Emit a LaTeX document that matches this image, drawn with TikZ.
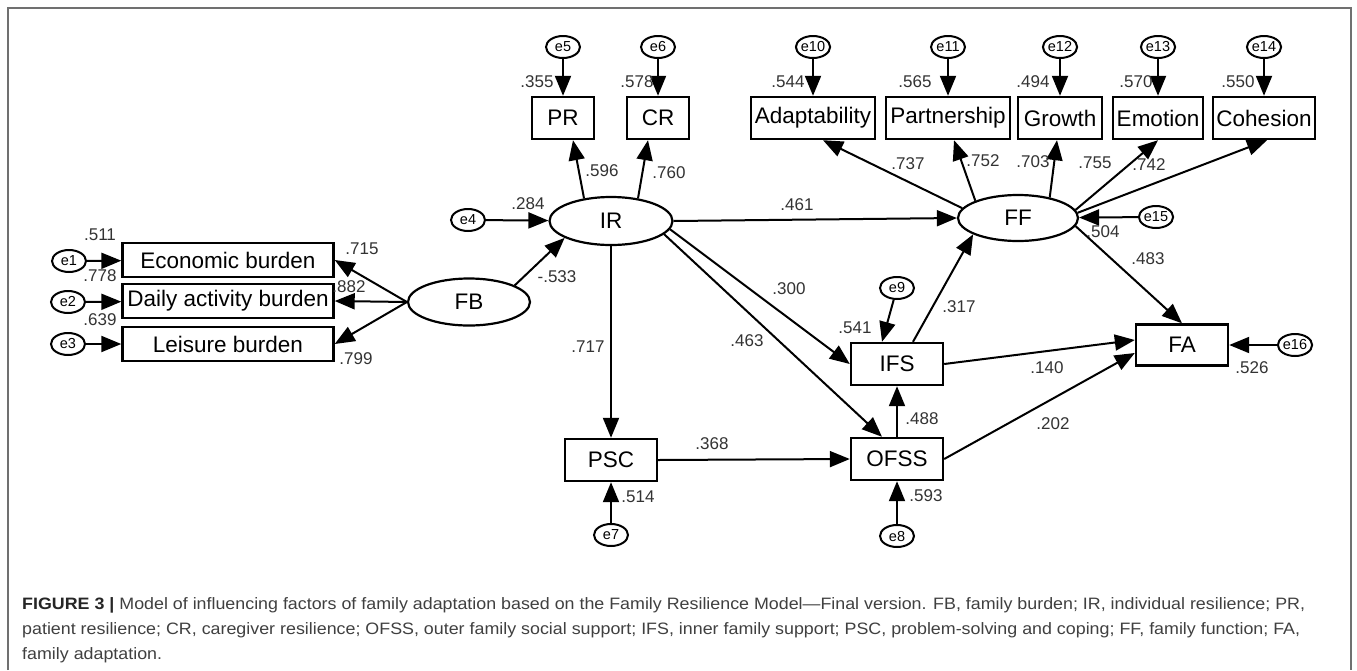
\documentclass[tikz,border=0pt]{standalone}
\usepackage{fontspec}
\setmainfont{Liberation Sans}
\usetikzlibrary{arrows.meta,shapes.geometric}
\definecolor{numcol}{HTML}{333333}
\definecolor{framecol}{HTML}{707070}
\definecolor{capcol}{HTML}{404040}
\newlength\capwd
\newcommand\capfont{\fontsize{16.5}{20}\selectfont}
\newcommand\captwo{patient resilience; CR, caregiver resilience; OFSS, outer family social support; IFS, inner family support; PSC, problem-solving and coping; FF, family function; FA,}
\begin{document}
\settowidth\capwd{\capfont\captwo}
\pgfmathsetmacro\capsx{1278pt/\capwd}
\begin{tikzpicture}[x=1pt,y=-1pt,
  obs/.style={draw,line width=2.4pt,minimum height=42pt,inner sep=0pt,font=\fontsize{22.5}{24}\selectfont},
  lat/.style={draw,ellipse,line width=2.2pt,minimum width=122pt,minimum height=47pt,inner sep=0pt,font=\fontsize{22.5}{24}\selectfont},
  err/.style={draw,ellipse,line width=2pt,minimum width=34pt,minimum height=22pt,inner sep=0pt,font=\fontsize{14.5}{14.5}\selectfont},
  num/.style={font=\fontsize{17}{18}\selectfont,text=numcol,inner sep=0pt},
  arr/.style={line width=2pt,-{Triangle[length=20pt 0 0,width=16pt 0 0]}},
]
\fill[white] (0,0) rectangle (1357,670);
\useasboundingbox (0,0) rectangle (1357,670);
\draw[framecol,line width=1.5pt] (8,670) -- (8,8) -- (1351,8) -- (1351,670);

% observed boxes
\node[obs,minimum width=211pt,minimum height=34pt] (econ) at (228,260) {Economic burden};
\node[obs,minimum width=211pt,minimum height=34pt] (daily) at (228,301) {Daily activity burden};
\node[obs,minimum width=211pt,minimum height=34pt] (leis) at (228,344) {Leisure burden};
\node[obs,minimum width=62pt] (pr) at (563,118) {PR};
\node[obs,minimum width=62pt] (cr) at (658,118) {CR};
\node[obs,minimum width=124pt] (adap) at (813,118) {Adaptability};
\node[obs,minimum width=124pt] (part) at (948,118) {Partnership};
\node[obs,minimum width=84pt] (grow) at (1060,118) {Growth};
\node[obs,minimum width=90pt] (emo) at (1158,118) {Emotion};
\node[obs,minimum width=102pt] (coh) at (1264,118) {Cohesion};
\node[obs,minimum width=92pt] (psc) at (611,460) {PSC};
\node[obs,minimum width=92pt] (ofss) at (897,459) {OFSS};
\node[obs,minimum width=92pt] (ifs) at (897,364) {IFS};
\node[obs,minimum width=92pt,minimum height=41pt] (fa) at (1182,345) {FA};

% latent
\node[lat] (fb) at (469,302) {FB};
\node[lat,minimum width=123pt,minimum height=48pt] (ir) at (611,221) {IR};
\node[lat,minimum width=120pt,minimum height=46pt] (ff) at (1018,218) {FF};

% errors
\node[err] (e1) at (69,261) {e1};
\node[err] (e2) at (68,302) {e2};
\node[err] (e3) at (68,344) {e3};
\node[err] (e4) at (468,220) {e4};
\node[err] (e5) at (563,47) {e5};
\node[err] (e6) at (658,47) {e6};
\node[err] (e7) at (611,535) {e7};
\node[err] (e8) at (897,536) {e8};
\node[err] (e9) at (897,288) {e9};
\node[err] (e10) at (813,47) {e10};
\node[err] (e11) at (948,47) {e11};
\node[err] (e12) at (1060,47) {e12};
\node[err] (e13) at (1158,47) {e13};
\node[err] (e14) at (1264,47) {e14};
\node[err] (e15) at (1156,217) {e15};
\node[err] (e16) at (1295,345) {e16};

% arrows
\draw[arr] (e1) -- (econ);
\draw[arr] (e2) -- (daily);
\draw[arr] (e3) -- (leis);
\draw[arr] (fb.west) -- (econ.east);
\draw[arr] (fb.west) -- (daily.east);
\draw[arr] (fb.west) -- (leis.east);
\draw[arr] (fb.20) -- (ir.200);
\draw[arr] (e4) -- (ir);
\draw[arr] (ir.140) -- ([xshift=10pt]pr.south);
\draw[arr] (ir.40) -- ([xshift=-10pt]cr.south);
\draw[arr] (e5) -- (pr);
\draw[arr] (e6) -- (cr);
\draw[arr] (e10) -- (adap);
\draw[arr] (e11) -- (part);
\draw[arr] (e12) -- (grow);
\draw[arr] (e13) -- (emo);
\draw[arr] (e14) -- (coh);
\draw[arr] (ir.east) -- (ff.west);
\draw[arr] (ir.-8) -- (ifs.west);
\draw[arr] (ir.-14) -- ([xshift=-15pt]ofss.north);
\draw[arr] (ir.south) -- (psc.north);
\draw[arr] (psc.east) -- (ofss.west);
\draw[arr] (ofss.north) -- (ifs.south);
\draw[arr] (e9) -- ([xshift=-15pt]ifs.north);
\draw[arr] ([xshift=16pt]ifs.north) -- (ff.200);
\draw[arr] (ifs.east) -- ([yshift=5pt]fa.west);
\draw[arr] (ofss.east) -- ([yshift=-8pt]fa.west);
\draw[arr] (ff.-8) -- (fa.north);
\draw[arr] (e15) -- (ff);
\draw[arr] (e16) -- (fa);
\draw[arr] (e7) -- (psc);
\draw[arr] (e8) -- (ofss);
\draw[arr] (ff.170) -- ([xshift=10pt]adap.south);
\draw[arr] (ff.158) -- ([xshift=6pt]part.south);
\draw[arr] (ff.33) -- ([xshift=-3pt]grow.south);
\draw[arr] (ff.8) -- (emo.south);
\draw[arr] (ff.5) -- ([xshift=3pt]coh.south);

% numbers
\node[num] (n1) at (100,235) {.511};
\node[num] (n2) at (100,276) {.778};
\node[num] (n3) at (100,320) {.639};
\node[num] (n4) at (362,249) {.715};
\node[num] (n5) at (349,287) {.882};
\node[num] (n6) at (356,359) {.799};
\node[num] (n7) at (557,277) {-.533};
\node[num] (n8) at (528,204) {.284};
\node[num] (n9) at (537,82) {.355};
\node[num] (n10) at (637,82) {.578};
\node[num] (n11) at (602,171) {.596};
\node[num] (n12) at (669,173) {.760};
\node[num] (n13) at (797,205) {.461};
\node[num] (n14) at (789,289) {.300};
\node[num] (n15) at (588,347) {.717};
\node[num] (n16) at (747,341) {.463};
\node[num] (n17) at (855,328) {.541};
\node[num] (n18) at (959,307) {.317};
\node[num] (n19) at (922,419) {.488};
\node[num] (n20) at (712,444) {.368};
\node[num] (n21) at (638,497) {.514};
\node[num] (n22) at (926,496) {.593};
\node[num] (n23) at (788,82) {.544};
\node[num] (n24) at (915,82) {.565};
\node[num] (n25) at (1033,82) {.494};
\node[num] (n26) at (1136,82) {.570};
\node[num] (n27) at (1238,82) {.550};
\node[num] (n28) at (908,164) {.737};
\node[num] (n29) at (983,161) {.752};
\node[num] (n30) at (1033,162) {.703};
\node[num] (n31) at (1095,163) {.755};
\node[num] (n32) at (1149,165) {.742};
\node[num] (n33) at (1103,232) {.504};
\node[num] (n34) at (1148,259) {.483};
\node[num] (n35) at (1047,368) {.140};
\node[num] (n36) at (1053,424) {.202};
\node[num] (n37) at (1252,368) {.526};

% caption
\node[anchor=base west,inner sep=0pt,text=capcol] (cap1) at (22,609) {\resizebox{1283pt}{\height}{\capfont\textcolor{black!85}{\textbf{FIGURE 3 |}} Model of influencing factors of family adaptation based on the Family Resilience Model—Final version. FB, family burden; IR, individual resilience; PR,}};
\node[anchor=base west,inner sep=0pt,text=capcol] (cap2) at (22,634) {\resizebox{1278pt}{\height}{\capfont\captwo}};
\node[anchor=base west,inner sep=0pt,text=capcol] (cap3) at (22,659) {\scalebox{\capsx}[1]{\capfont family adaptation.}};
\end{tikzpicture}
\end{document}
